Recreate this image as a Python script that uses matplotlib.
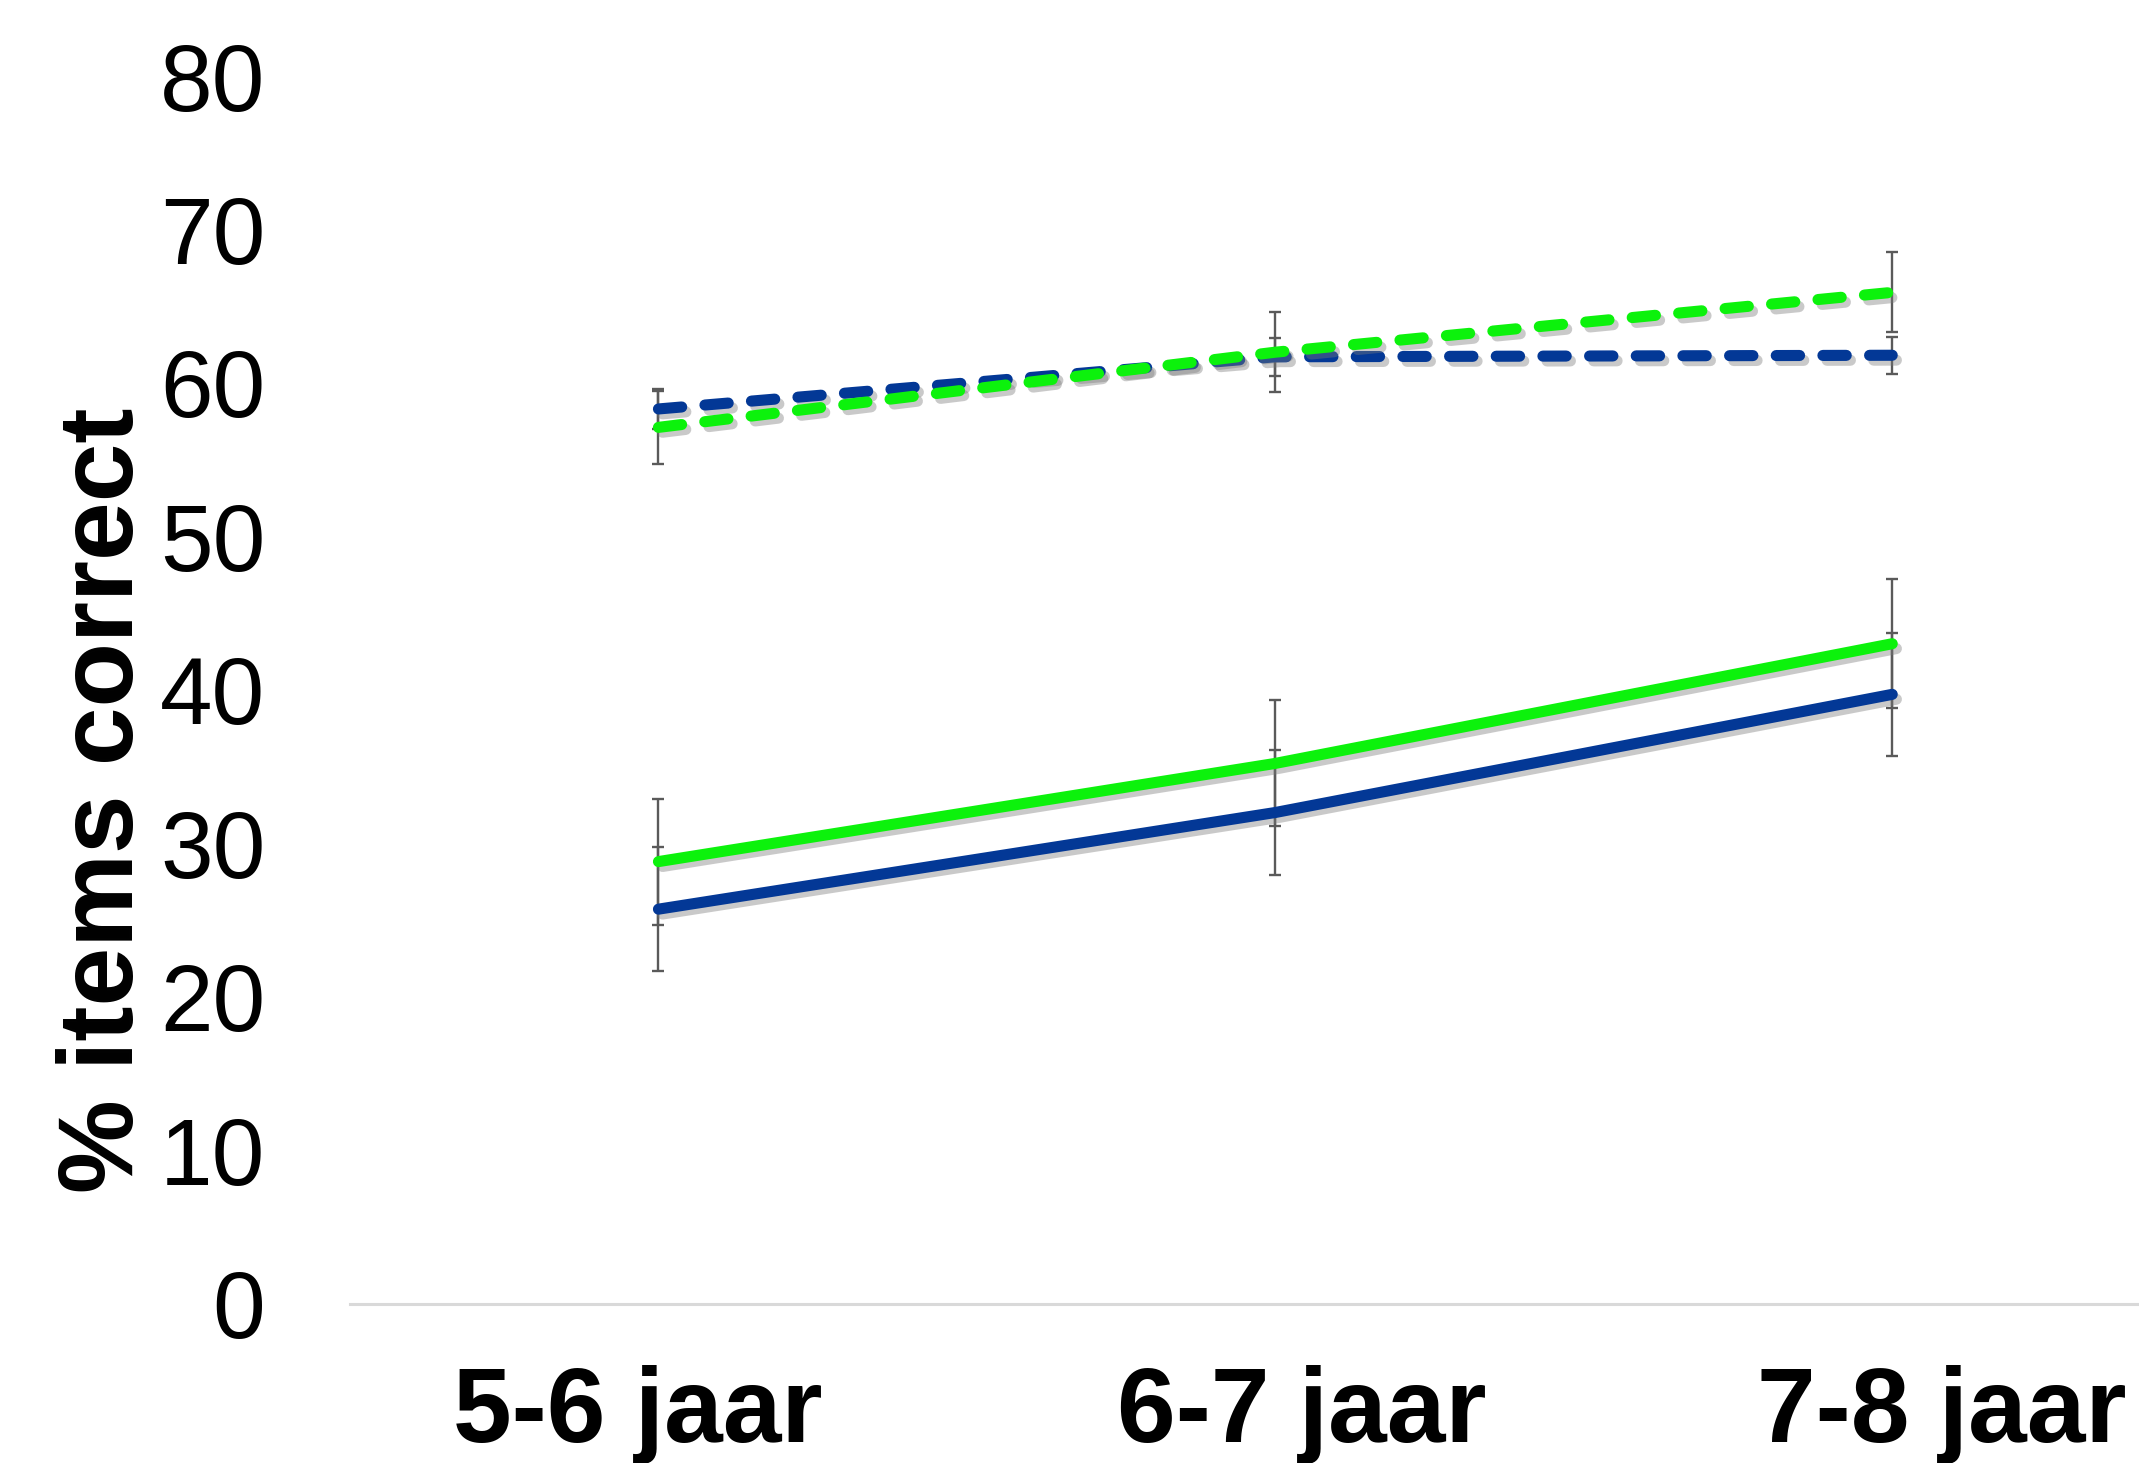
import matplotlib
matplotlib.use("Agg")
import matplotlib.pyplot as plt
import matplotlib.patheffects as pe
import matplotlib.transforms as mtransforms

categories = ['5-6 jaar', '6-7 jaar', '7-8 jaar']
blue_solid = [25.7, 32.0, 39.7]
blue_solid_err = [4.05, 4.05, 4.0]
green_solid = [28.8, 35.2, 43.0]
green_solid_err = [4.1, 4.1, 4.2]
blue_dashed = [58.3, 61.7, 61.8]
blue_dashed_err = [1.3, 1.25, 1.2]
green_dashed = [57.1, 62.0, 65.9]
green_dashed_err = [2.4, 2.6, 2.6]
yticks = [0, 10, 20, 30, 40, 50, 60, 70, 80]

BLUE = '#033896'
GREEN = '#0CF20C'
ERR = '#5a5a5a'

plt.rcParams['font.family'] = ['Liberation Sans', 'DejaVu Sans']

fig = plt.figure(figsize=(21.39, 14.63), dpi=100)
ax = fig.add_axes([350/2139, 1 - 1303.5/1463, 1 - 350/2139, (1303.5 - 76)/1463])

x = list(range(len(categories)))
shadow = [pe.SimpleLineShadow(offset=(3, -3.5), shadow_color='#7a7a7a', alpha=0.4), pe.Normal()]

series = [
    (blue_solid, blue_solid_err, BLUE, '-'),
    (green_solid, green_solid_err, GREEN, '-'),
    (blue_dashed, blue_dashed_err, BLUE, '--'),
    (green_dashed, green_dashed_err, GREEN, '--'),
]
for vals, err, col, ls in series:
    ax.errorbar(x, vals, yerr=err, fmt='none', ecolor=ERR, elinewidth=1.7,
                capsize=4.5, capthick=1.7, zorder=2)
for vals, err, col, ls in series:
    line, = ax.plot(x, vals, color=col, lw=8.0, solid_capstyle='round',
                    dash_capstyle='round', zorder=3, path_effects=shadow)
    if ls == '--':
        line.set_dashes((2.1, 2.1))

ax.set_xlim(-0.5, 2.4)
ax.set_ylim(0, 80)
ax.set_yticks(yticks)
ax.set_yticklabels([str(t) for t in yticks], fontsize=68)
ax.tick_params(axis='y', length=0, pad=61)
ax.set_xticks(x)
ax.set_xticklabels(categories, fontsize=76, fontweight='bold')
ax.tick_params(axis='x', length=0, pad=44)

offsets_pt = [-15, 19, 36]
for lab, dx in zip(ax.get_xticklabels(), offsets_pt):
    lab.set_transform(lab.get_transform() + mtransforms.ScaledTranslation(dx/72, 0, fig.dpi_scale_trans))

for s in ['top', 'right', 'left']:
    ax.spines[s].set_visible(False)
ax.spines['bottom'].set_color('#d9d9d9')
ax.spines['bottom'].set_linewidth(2.2)

ax.set_ylabel('% items correct', fontsize=76, fontweight='bold')
ax.yaxis.label.set_va('center')
ax.yaxis.set_label_coords((106 - 350)/1789, (1303.5 - 800)/(1303.5 - 76))

fig.savefig('out.png', dpi=100, facecolor='white')
